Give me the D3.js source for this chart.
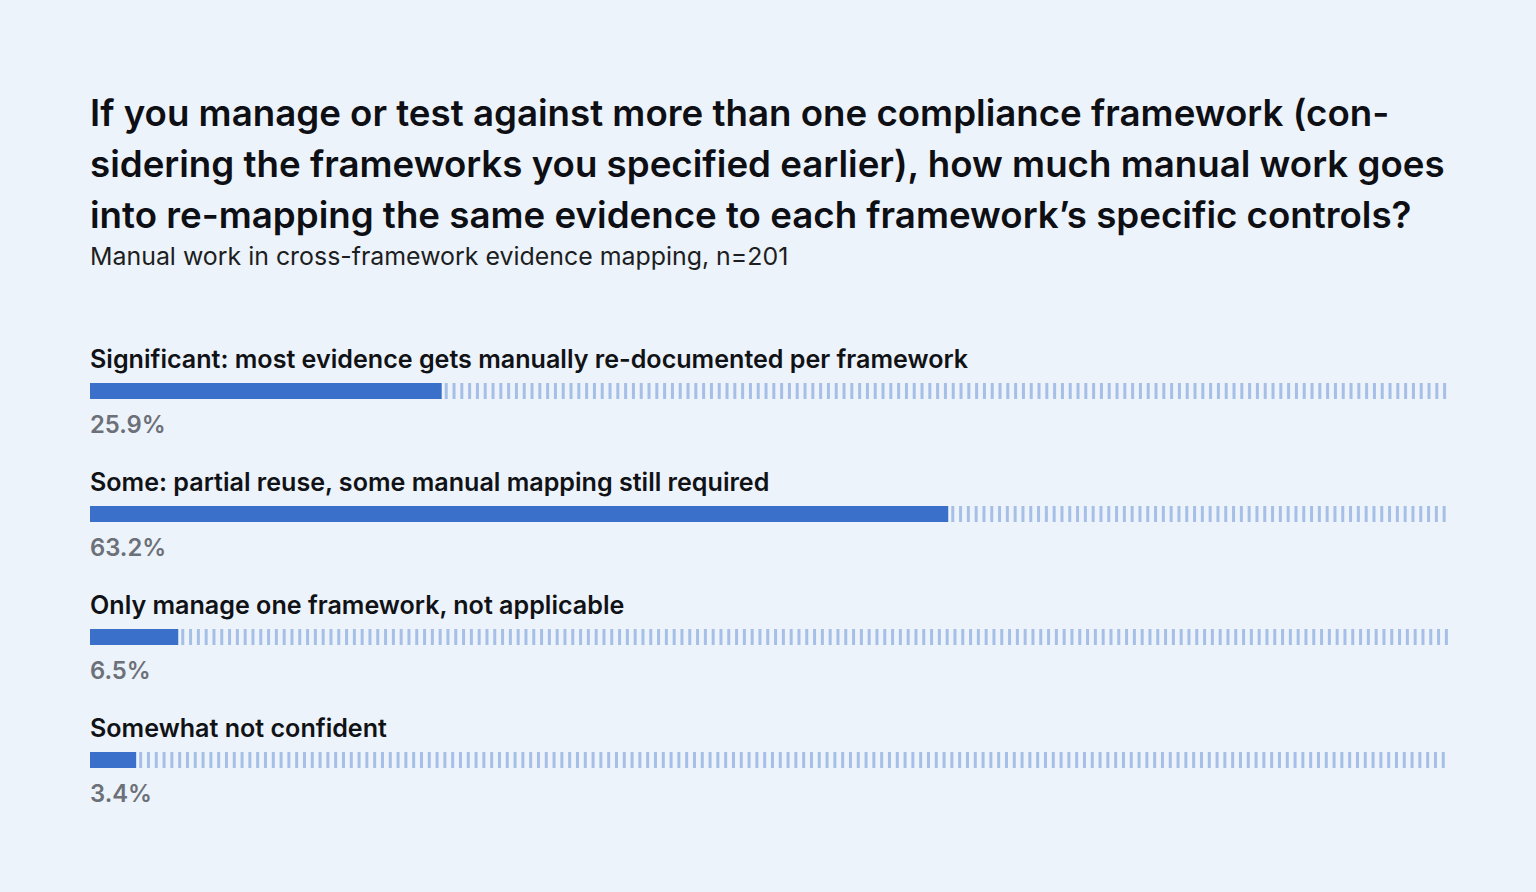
<!DOCTYPE html>
<html lang="en">
<head>
    <meta charset="UTF-8">
    <title>Manual work in cross-framework evidence mapping</title>
    <script src="https://d3js.org/d3.v7.min.js"></script>
    <style>
        html, body { margin: 0; padding: 0; background: #edf3fa; }
        svg { display: block; font-family: Inter, "Noto Sans", sans-serif; }
    </style>
</head>
<body>
    <div id="chart"></div>
    <script>
        // data
        const titleLines = [
            "If you manage or test against more than one compliance framework (con-",
            "sidering the frameworks you specified earlier), how much manual work goes",
            "into re-mapping the same evidence to each framework\u2019s specific controls?"
        ];
        const subtitle = "Manual work in cross-framework evidence mapping, n=201";
        const categories = [
            "Significant: most evidence gets manually re-documented per framework",
            "Some: partial reuse, some manual mapping still required",
            "Only manage one framework, not applicable",
            "Somewhat not confident"
        ];
        const values = [25.9, 63.2, 6.5, 3.4];

        const width = 1536, height = 892;
        const left = 90, right = 1448;

        const svg = d3.select("#chart").append("svg")
            .attr("width", width)
            .attr("height", height);

        svg.append("rect").attr("width", width).attr("height", height).attr("fill", "#edf3fa");

        // title
        svg.append("g").selectAll("text")
            .data(titleLines)
            .enter().append("text")
            .attr("x", left)
            .attr("y", (d, i) => 126 + i * 51)
            .attr("font-size", 36.7)
            .attr("font-weight", 600)
            .attr("fill", "#0d0f14")
            .text(d => d);

        svg.append("text")
            .attr("x", left)
            .attr("y", 265)
            .attr("font-size", 24.9)
            .attr("fill", "#1c1e22")
            .text(subtitle);

        const x = d3.scaleLinear().domain([0, 100]).range([left, right]);
        const y = d3.scaleBand().domain(categories).range([345, 837]);

        const barH = 16;
        const stripeStep = 7.8, stripeW = 3;

        const rows = svg.append("g").selectAll("g")
            .data(categories.map((c, i) => ({ name: c, value: values[i] })))
            .enter().append("g")
            .attr("transform", d => `translate(0,${y(d.name)})`);

        rows.append("text")
            .attr("x", left)
            .attr("y", 23)
            .attr("font-size", 25.1)
            .attr("font-weight", 600)
            .attr("fill", "#101216")
            .text(d => d.name);

        // striped remainder
        rows.each(function(d) {
            const start = x(d.value);
            const n = Math.floor((right - start - stripeW) / stripeStep) + 1;
            d3.select(this).append("g").selectAll("rect")
                .data(d3.range(n))
                .enter().append("rect")
                .attr("x", i => start + 3 + i * stripeStep)
                .attr("y", 38)
                .attr("width", stripeW)
                .attr("height", barH)
                .attr("fill", "#a6bfe7");
        });

        rows.append("rect")
            .attr("x", left)
            .attr("y", 38)
            .attr("width", d => x(d.value) - left)
            .attr("height", barH)
            .attr("fill", "#3a6fca");

        rows.append("text")
            .attr("x", left)
            .attr("y", 88)
            .attr("font-size", 23.8)
            .attr("font-weight", 600)
            .attr("fill", "#6c7078")
            .text(d => d.value.toFixed(1) + "%");
    </script>
</body>
</html>
